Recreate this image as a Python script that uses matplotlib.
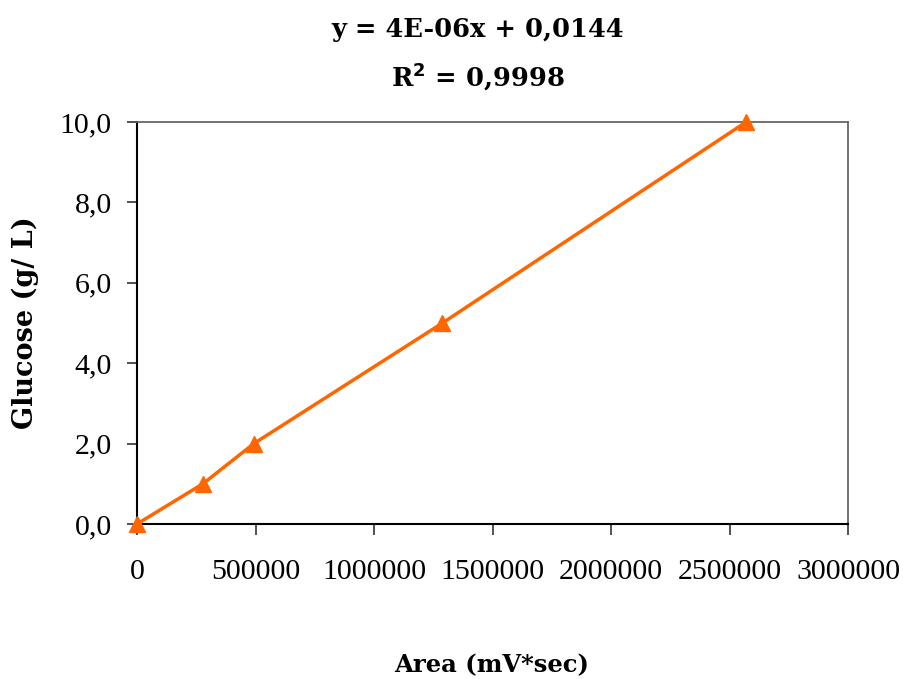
import matplotlib
matplotlib.use("Agg")
import matplotlib.pyplot as plt

# calibration data
area = [0, 278000, 493000, 1289000, 2570000]
glucose = [0.0, 1.0, 2.0, 5.0, 10.0]

xticks = [0, 500000, 1000000, 1500000, 2000000, 2500000, 3000000]
yticks = [0, 2, 4, 6, 8, 10]

orange = '#FF6600'

fig = plt.figure(figsize=(9.04, 6.79), dpi=100)
ax = fig.add_axes([137/904, 1-524/679, 711/904, 402/679])

ax.plot(area, glucose, color=orange, lw=2.5, marker='^', ms=11, clip_on=False, zorder=3)

ax.set_xlim(0, 3000000)
ax.set_ylim(0, 10)
ax.set_xticks(xticks)
ax.set_xticklabels([str(v) for v in xticks])
ax.set_yticks(yticks)
ax.set_yticklabels([('%.1f' % v).replace('.', ',') for v in yticks])

for lab in ax.get_xticklabels() + ax.get_yticklabels():
    lab.set_fontfamily('Liberation Serif')
    lab.set_fontsize(21.5)
ax.tick_params(axis='x', direction='out', length=8, width=1.2, pad=17, color='#333333')
ax.tick_params(axis='y', direction='out', length=7, width=1.2, pad=11, color='#333333')

for s in ['left', 'bottom']:
    ax.spines[s].set_color('#000000')
    ax.spines[s].set_linewidth(1.5)
for s in ['top', 'right']:
    ax.spines[s].set_color('#666666')
    ax.spines[s].set_linewidth(1.3)

ax.set_xlabel('Area (mV*sec)', fontfamily='DejaVu Serif', fontweight='bold', fontsize=17.5)
ax.xaxis.set_label_coords((492-137)/711, 1-(665-122)/402)
ax.set_ylabel('Glucose (g/ L)', fontfamily='DejaVu Serif', fontweight='bold', fontsize=19.5)
ax.yaxis.set_label_coords(-(137-25)/711, 0.5)
ax.xaxis.label.set_va('center')
ax.yaxis.label.set_va('center')

fig.text(478/904, 1-30/679, 'y = 4E-06x + 0,0144', ha='center', va='center',
         fontfamily='DejaVu Serif', fontweight='bold', fontsize=18.5)
fig.text(478/904, 1-77/679, r'R$^\mathbf{2}$ = 0,9998', ha='center', va='center',
         fontfamily='DejaVu Serif', fontweight='bold', fontsize=18.5)

fig.savefig('out.png', dpi=100)
